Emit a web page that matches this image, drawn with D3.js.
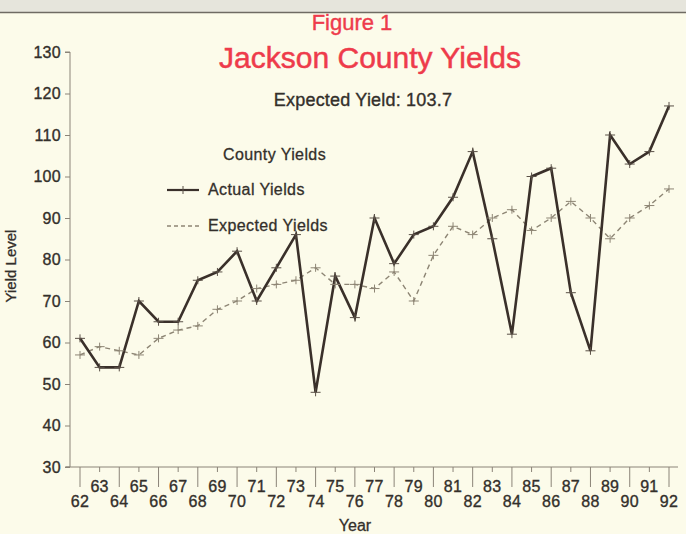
<!DOCTYPE html>
<html>
<head>
<meta charset="utf-8">
<script src="https://cdn.jsdelivr.net/npm/d3@7"></script>
<style>
  html, body { margin: 0; padding: 0; background: #fcfbea; }
  svg { display: block; }
  text { font-family: "Liberation Sans", Arial, Helvetica, sans-serif; }
</style>
</head>
<body>
<svg id="chart" width="686" height="534"></svg>
<script>
// Crop years and yields (bushels per acre)
const years = d3.range(62, 93);
const actualYields = [61, 54, 54, 70, 65, 65, 75, 77, 82, 70, 78, 86, 48, 76, 66, 90,
                      79, 86, 88, 95, 106, 85, 62, 100, 102, 72, 58, 110, 103, 106, 117];
const expectedYields = [57, 59, 58, 57, 61, 63, 64, 68, 70, 73, 74, 75, 78, 74, 74, 73,
                        77, 70, 81, 88, 86, 90, 92, 87, 90, 94, 90, 85, 90, 93, 97];
const yTicks = [30, 40, 50, 60, 70, 80, 90, 100, 110, 120, 130];
const titleLines = ["Figure 1", "Jackson County Yields"];
const subtitle = "Expected Yield: 103.7";
const legendTitle = "County Yields";
const seriesNames = ["Actual Yields", "Expected Yields"];

const svg = d3.select("#chart");
const ink = "#3a302a";
const dashInk = "#8d8574";
const red = "#ee3b4b";
const textInk = "#332f2a";

// slightly heavier lettering, like a printed figure
function heavy(sel, color, w) {
  return sel.attr("fill", color).attr("stroke", color).attr("stroke-width", w)
    .attr("paint-order", "stroke");
}

// page background with a grey strip and rule along the top edge
svg.append("rect").attr("x", 0).attr("y", 0).attr("width", 686).attr("height", 534).attr("fill", "#fcfbea");
svg.append("rect").attr("x", 0).attr("y", 0).attr("width", 686).attr("height", 12).attr("fill", "#e6e5dc");
svg.append("line").attr("x1", 0).attr("x2", 686).attr("y1", 12.5).attr("y2", 12.5)
  .attr("stroke", "#6f6b63").attr("stroke-width", 1.5);

const x = d3.scaleLinear().domain([62, 92]).range([80, 669]);
const y = d3.scaleLinear().domain([30, 130]).range([467, 52]);

// y axis
const yAxis = svg.append("g").attr("transform", "translate(70,0)")
  .call(d3.axisLeft(y).tickValues(yTicks).tickSize(5).tickPadding(4));
yAxis.select(".domain").attr("stroke", "#8b8478").attr("d", `M-5,${y(130)}H0V${y(30)}H-5`);
yAxis.selectAll(".tick line").attr("stroke", "#8b8478");
heavy(yAxis.selectAll(".tick text"), textInk, 0.35)
  .style("font-size", "16px").style("letter-spacing", "0.3px");

// x axis: baseline, short ticks on odd years, long ticks on even years
const xg = svg.append("g");
xg.append("line").attr("x1", 66).attr("x2", 678).attr("y1", y(30)).attr("y2", y(30))
  .attr("stroke", "#8b8478").attr("stroke-width", 1);
xg.selectAll("line.tick").data(years).join("line")
  .attr("class", "tick")
  .attr("x1", d => x(d)).attr("x2", d => x(d))
  .attr("y1", y(30))
  .attr("y2", d => d % 2 === 0 ? y(30) + 20 : y(30) + 5)
  .attr("stroke", "#8b8478").attr("stroke-width", 1);
heavy(xg.selectAll("text.lab").data(years).join("text"), textInk, 0.35)
  .attr("class", "lab")
  .attr("x", d => x(d))
  .attr("y", d => d % 2 === 0 ? 507 : 492)
  .attr("text-anchor", "middle")
  .style("font-size", "16px").style("letter-spacing", "0.3px")
  .text(d => d);

// axis titles
heavy(svg.append("text"), textInk, 0.3).attr("x", 355).attr("y", 531).attr("text-anchor", "middle")
  .style("font-size", "16px").text("Year");
heavy(svg.append("text"), textInk, 0.3).attr("transform", "translate(16,266) rotate(-90)")
  .attr("text-anchor", "middle").style("font-size", "15px").text("Yield Level");

// titles
heavy(svg.append("text"), red, 0.4).attr("x", 352).attr("y", 30).attr("text-anchor", "middle")
  .style("font-size", "22px").text(titleLines[0]);
heavy(svg.append("text"), red, 0.5).attr("x", 370).attr("y", 68).attr("text-anchor", "middle")
  .style("font-size", "30px").text(titleLines[1]);
heavy(svg.append("text"), textInk, 0.35).attr("x", 363).attr("y", 106).attr("text-anchor", "middle")
  .style("font-size", "18px").style("letter-spacing", "0.2px").text(subtitle);

// series lines
const line = d3.line().x((d, i) => x(years[i])).y(d => y(d));
svg.append("path").datum(expectedYields).attr("d", line)
  .attr("fill", "none").attr("stroke", dashInk).attr("stroke-width", 1.4)
  .attr("stroke-dasharray", "5,4");
svg.append("path").datum(actualYields).attr("d", line)
  .attr("fill", "none").attr("stroke", ink).attr("stroke-width", 2.6)
  .attr("stroke-linejoin", "miter");

// plus markers at each point
function plus(sel, data, color, w) {
  sel.selectAll(null).data(data).join("path")
    .attr("d", (d, i) => {
      const cx = x(years[i]), cy = y(d);
      return `M${cx - 5},${cy}H${cx + 5}M${cx},${cy - 4}V${cy + 4}`;
    })
    .attr("stroke", color).attr("stroke-width", w).attr("fill", "none");
}
plus(svg.append("g"), expectedYields, dashInk, 1);
plus(svg.append("g"), actualYields, "#5a5047", 1);

// legend
heavy(svg.append("text"), textInk, 0.3).attr("x", 223).attr("y", 160)
  .style("font-size", "16px").style("letter-spacing", "0.4px").text(legendTitle);
svg.append("line").attr("x1", 167).attr("x2", 199).attr("y1", 190).attr("y2", 190)
  .attr("stroke", ink).attr("stroke-width", 2.2);
svg.append("line").attr("x1", 183).attr("x2", 183).attr("y1", 186).attr("y2", 194)
  .attr("stroke", "#5a5047").attr("stroke-width", 1);
heavy(svg.append("text"), textInk, 0.3).attr("x", 208).attr("y", 195)
  .style("font-size", "16px").style("letter-spacing", "0.4px").text(seriesNames[0]);
svg.append("line").attr("x1", 167).attr("x2", 199).attr("y1", 226).attr("y2", 226)
  .attr("stroke", dashInk).attr("stroke-width", 1.3).attr("stroke-dasharray", "4,3");
heavy(svg.append("text"), textInk, 0.3).attr("x", 208).attr("y", 231)
  .style("font-size", "16px").style("letter-spacing", "0.4px").text(seriesNames[1]);
</script>
</body>
</html>
